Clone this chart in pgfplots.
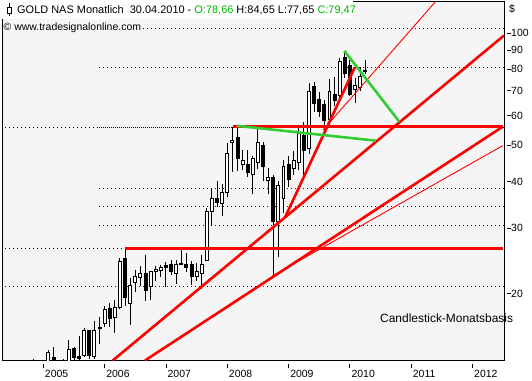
\documentclass[border=0pt]{standalone}
\usepackage{fontspec}
\setmainfont{Liberation Sans}
\usepackage{pgfplots}
\pgfplotsset{compat=1.18}
\usepackage{pgfplotstable}
\definecolor{plotbg}{RGB}{245,245,245}
\definecolor{tred}{RGB}{255,0,0}
\definecolor{tgreen}{RGB}{50,205,50}
\definecolor{tblue}{RGB}{0,0,200}
\definecolor{ogreen}{RGB}{0,185,0}

% monthly candles: t = months since Jan 2005 (0 = Jan 2005)
\pgfplotstableread{
t O H L C
-2 12.5 13.35 12.0 12.9
1 12.9 14.1 12.5 13.9
2 13.5 14.4 12.6 13.0
3 13.0 13.2 12.4 12.8
4 13.2 13.4 12.5 13.1
5 13.1 15.0 12.9 14.2
6 14.3 14.4 13.1 13.5
7 13.6 15.4 13.2 13.4
8 13.7 16.2 13.5 15.9
9 15.9 16.0 13.4 13.7
10 13.6 16.9 13.4 15.9
11 16.2 17.3 14.7 16.1
12 16.6 18.6 16.3 18.1
13 18.3 18.9 16.3 17.2
14 17.3 19.2 15.7 18.4
15 18.4 24.9 18.2 24.4
16 24.9 26.48 18.5 19.6
17 18.8 22.0 16.5 21.1
18 21.4 23.2 20.2 22.2
19 22.1 23.7 21.0 22.6
20 22.6 25.4 19.1 20.4
21 20.9 23.0 19.2 22.9
22 23.0 23.7 21.7 23.2
23 23.1 23.9 22.2 23.5
24 23.8 24.4 20.9 23.5
25 24.0 24.6 22.5 22.9
26 22.7 24.6 21.3 24.0
27 23.95 26.3 23.9 24.05
28 24.0 25.7 22.9 23.5
29 23.9 24.5 21.1 22.3
30 22.3 24.2 21.7 23.0
31 22.7 25.4 20.6 24.0
32 24.6 33.9 24.5 33.3
33 33.3 38.3 30.4 36.0
34 36.0 40.0 34.1 35.2
35 34.9 39.5 32.4 37.3
36 37.3 50.8 36.3 47.6
37 50.8 56.1 42.5 51.6
38 52.5 56.0 42.8 46.1
39 44.5 48.5 42.9 45.6
40 44.3 48.5 41.2 42.2
41 41.7 46.7 37.1 46.2
42 45.0 55.8 43.2 50.9
43 50.1 51.0 40.1 43.8
44 40.2 43.5 37.0 41.0
45 41.1 41.6 22.5 31.2
46 31.2 40.0 25.1 39.0
47 36.0 45.6 32.9 43.8
48 44.3 46.9 38.7 40.6
49 43.4 48.3 41.6 45.6
50 44.9 56.1 42.9 53.8
51 53.2 57.8 41.6 48.5
52 49.0 73.3 47.5 69.6
53 71.8 74.0 61.5 64.9
54 66.5 69.6 59.7 61.5
55 64.3 66.1 54.9 58.4
56 58.8 75.3 56.1 69.6
57 68.6 76.3 63.7 66.1
58 68.2 85.5 66.1 84.1
59 86.2 89.7 76.0 78.1
60 82.1 84.6 67.8 68.6
61 70.6 76.0 65.1 72.3
62 71.3 81.2 70.0 76.5
63 78.66 84.65 77.65 79.47
}\candles
\pgfplotstablegetrowsof{\candles}
\pgfmathtruncatemacro{\lastrow}{\pgfplotsretval-1}

\begin{document}
\begin{tikzpicture}[x=1bp,y=1bp]
\useasboundingbox (0,0) rectangle (532,380);
\fill[white] (0,0) rectangle (532,380);
\begin{axis}[
  at={(2bp,19.5bp)}, anchor=south west,
  width=502bp, height=359bp, scale only axis,
  xmin=-8.08, xmax=90.16,
  ymode=log, ymin=13.245, ymax=121.5,
  axis background/.style={fill=plotbg},
  axis line style={black, line width=1bp},
  clip=true,
  tick align=outside,
  major tick length=4bp,
  minor tick num=0,
  every tick/.append style={black, line width=0.8bp},
  xtick pos=left, ytick pos=right,
  xtick={0,12,24,36,48,60,72,84},
  xticklabels={2005,2006,2007,2008,2009,2010,2011,2012},
  xtick style={yshift=-3bp},
  ytick={20,30,40,50,60,70,80,90,100},
  yticklabels={20,30,40,50,60,70,80,90,100},
  ytick style={xshift=3bp},
  yminorticks=false,
  xticklabel style={anchor=north west, inner sep=0pt, xshift=1.5bp, yshift=-5bp, font=\fontsize{10.5}{12}\selectfont},
  yticklabel style={anchor=west, inner sep=0pt, xshift=3bp, font=\fontsize{10.5}{12}\selectfont},
]
% dotted level lines
\addplot[tblue, line width=0.9bp, dash pattern=on 0.9bp off 3.1bp] coordinates {(10.90,102.8) (90.16,102.8)};
\addplot[tblue, line width=0.9bp, dash pattern=on 0.9bp off 3.1bp] coordinates {(10.90,81.07) (90.16,81.07)};
\addplot[tblue, line width=0.9bp, dash pattern=on 0.9bp off 3.1bp] coordinates {(10.90,55.88) (90.16,55.88)};
\addplot[tblue, line width=0.9bp, dash pattern=on 0.9bp off 3.1bp] coordinates {(10.90,38.34) (90.16,38.34)};
\addplot[tblue, line width=0.9bp, dash pattern=on 0.9bp off 3.1bp] coordinates {(10.90,34.22) (90.16,34.22)};
\addplot[tblue, line width=0.9bp, dash pattern=on 0.9bp off 3.1bp] coordinates {(10.90,30.51) (90.16,30.51)};
\addplot[tblue, line width=0.9bp, dash pattern=on 0.9bp off 3.1bp] coordinates {(10.90,20.98) (90.16,20.98)};
\addplot[black, line width=0.9bp, dash pattern=on 0.9bp off 3.1bp] coordinates {(-7.5,55.88) (37.12,55.88)};
\addplot[black, line width=0.9bp, dash pattern=on 0.9bp off 3.1bp] coordinates {(-7.5,26.48) (16.05,26.48)};
\addplot[black, line width=0.9bp, dash pattern=on 0.9bp off 3.1bp] coordinates {(-7.5,20.98) (10.90,20.98)};
% candles
\pgfplotsinvokeforeach{0,...,\lastrow}{
  \pgfplotstablegetelem{#1}{t}\of\candles \let\cT\pgfplotsretval
  \pgfplotstablegetelem{#1}{O}\of\candles \let\cO\pgfplotsretval
  \pgfplotstablegetelem{#1}{H}\of\candles \let\cH\pgfplotsretval
  \pgfplotstablegetelem{#1}{L}\of\candles \let\cL\pgfplotsretval
  \pgfplotstablegetelem{#1}{C}\of\candles \let\cC\pgfplotsretval
  \pgfmathsetmacro{\cTl}{\cT-0.29}
  \pgfmathsetmacro{\cTr}{\cT+0.29}
  \ifdim\cC pt>\cO pt \def\cFill{white}\else\def\cFill{black}\fi
  \edef\temp{\noexpand\addplot[black, line width=0.9bp] coordinates {(\cT,\cL) (\cT,\cH)};}
  \temp
  \edef\temp{\noexpand\addplot[draw=black, line width=0.9bp, fill=\cFill] coordinates {(\cTl,\cO) (\cTr,\cO) (\cTr,\cC) (\cTl,\cC)} -- cycle;}
  \temp
}
% horizontal resistance lines
\addplot[tred, line width=2.6bp] coordinates {(37.12,56.08) (89.9,56.08)};
\addplot[tred, line width=2.6bp] coordinates {(16.05,26.48) (89.9,26.48)};
% trend lines
\addplot[tred, line width=2.6bp] coordinates {(13.58,13.245) (90.16,98.5)};
\addplot[tred, line width=2.6bp] coordinates {(19.90,13.245) (89.90,56.08)};
\addplot[tred, line width=2.6bp] coordinates {(47.30,32.02) (60.96,80.92)};
\addplot[tred, line width=0.9bp] coordinates {(44.76,22.3) (89.90,49.9)};
\addplot[tred, line width=0.9bp] coordinates {(54.74,54.94) (77.55,124.9)};
\addplot[tgreen, line width=2.6bp] coordinates {(37.85,56.4) (65.11,51.45)};
\addplot[tgreen, line width=2.6bp] coordinates {(58.90,89.66) (69.67,57.86)};
\end{axis}
% header
\fill[white] (0,361) rectangle (353,380);
\draw[black, line width=0.9bp] (9.2,363.5) -- (9.2,376.5);
\draw[black, line width=0.9bp, fill=white] (7.2,367) rectangle (11.2,373);
\node[anchor=base west, inner sep=0pt, font=\fontsize{11}{13}\selectfont] at (17,366.5)
  {GOLD NAS Monatlich\ \ 30.04.2010 - \textcolor{ogreen}{O:78,66} H:84,65 L:77,65 \textcolor{ogreen}{C:79,47}};
\node[anchor=base west, inner sep=0.5pt, fill=plotbg, font=\fontsize{10.5}{12}\selectfont] at (3,350)
  {© www.tradesignalonline.com};
\node[anchor=west, inner sep=0pt, font=\fontsize{10.5}{12}\selectfont] at (509,371) {\$};
\node[anchor=west, inner sep=0pt, font=\fontsize{12}{14}\selectfont] at (380,62) {Candlestick-Monatsbasis};
\end{tikzpicture}
\end{document}
